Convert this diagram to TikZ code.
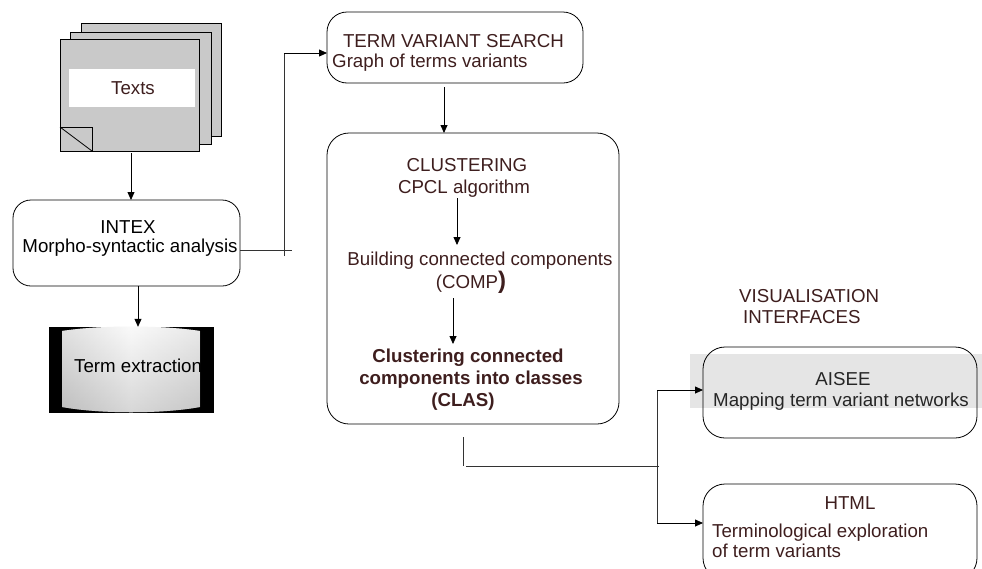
\documentclass[tikz,border=0pt]{standalone}
\usepackage{fontspec}
\setmainfont{Liberation Sans}
\usetikzlibrary{arrows.meta,calc}
\definecolor{txt}{RGB}{62,30,30}
\definecolor{sheet}{RGB}{201,201,201}
\definecolor{band}{RGB}{229,229,229}
\tikzset{
  box/.style={draw=black, line width=0.8pt, inner sep=0pt, outer sep=0pt},
  conn/.style={draw=black!80, line width=0.8pt},
  arr/.style={draw=black, line width=0.8pt, -{Triangle[length=8pt,width=7pt]}},
  lbl/.style={anchor=base, inner sep=0pt, font=\fontsize{18.7}{22}\selectfont, text=txt},
  lblw/.style={lbl, anchor=base west},
  blbl/.style={lbl, font=\fontsize{18.7}{22}\selectfont\bfseries},
  sheetbox/.style={box, fill=sheet}
}
\begin{document}
\begin{tikzpicture}[x=1pt,y=-1pt]
\useasboundingbox (0,0) rectangle (982,568);

% --- Texts stack ---
\node[sheetbox, minimum width=140pt, minimum height=113pt] (back) at (151,79.5) {};
\node[sheetbox, minimum width=141pt, minimum height=112pt] (mid) at (140.5,88) {};
\node[sheetbox, minimum width=139pt, minimum height=112pt] (front) at (129.5,95) {};
\fill[white] (69,69) rectangle (195,107);
\node[lbl] (texts) at (133,94) {Texts};
\draw[line width=0.8pt] (60,127) -- (92,127) -- (92,151);
\draw[line width=0.8pt] (60,127) -- (92,151);

% --- INTEX ---
\node[box, rounded corners=18pt, minimum width=227pt, minimum height=86pt] (intex) at (126.5,243) {};
\node[lbl, text=black] (intext) at (128,233) {INTEX};
\node[lbl, text=black] (morpho) at (130,252) {Morpho-syntactic analysis};

% --- Term extraction ---
\node[fill=black, inner sep=0pt, minimum width=165pt, minimum height=86pt] (te) at (131.5,370) {};
\begin{scope}
  \path[clip] (62,331) .. controls (100,325) and (162,325) .. (200,331) -- (200,407) .. controls (162,414) and (100,414) .. (62,407) -- cycle;
  \shade[top color=gray!6, bottom color=gray!58] (60,324) rectangle (202,415);
  \shade[left color=gray!45, right color=gray!30, middle color=white, opacity=0.45] (60,324) rectangle (202,415);
  \node[lblw, text=black] (tetext) at (74,372) {Term extraction};
\end{scope}

% --- Term variant search ---
\node[box, rounded corners=20pt, minimum width=256pt, minimum height=71pt] (tvs) at (455,47.5) {};
\node[lbl] (tvs1) at (453.5,47) {TERM VARIANT SEARCH};
\node[lblw] (tvs2) at (332,67) {Graph of terms variants};

% --- Clustering ---
\node[box, rounded corners=22pt, minimum width=292pt, minimum height=291pt] (clus) at (473,278.5) {};
\node[lbl] (cl1) at (467,171) {CLUSTERING};
\node[lbl] (cl2) at (464,193) {CPCL algorithm};
\node[lbl] (cl3) at (480,265) {Building connected components};
\node[lbl] (cl4) at (471,288) {(COMP{\fontsize{24}{24}\selectfont\bfseries )}};
\node[blbl] (cl5) at (468,362) {Clustering connected};
\node[blbl] (cl6) at (471,384) {components into classes};
\node[blbl] (cl7) at (463,406) {(CLAS)};
\coordinate (ca1) at (457,198);
\coordinate (ca2) at (457,245);
\coordinate (cb1) at (453,298);
\coordinate (cb2) at (453,344);
\draw[arr] (ca1) -- (ca2);
\draw[arr] (cb1) -- (cb2);

% --- Visualisation ---
\node[lblw] (vis1) at (739,302) {VISUALISATION};
\node[lblw] (vis2) at (743,323) {INTERFACES};
\fill[band] (690,354) rectangle (982,408);
\node[box, rounded corners=22pt, minimum width=274pt, minimum height=91pt] (aisee) at (840,392.5) {};
\node[lbl, text=black!85] (ai1) at (843,385) {AISEE};
\node[lbl, text=black!85] (ai2) at (841,406) {Mapping term variant networks};
\node[box, rounded corners=22pt, minimum width=274pt, minimum height=96pt] (html) at (840,532) {};
\node[lbl] (ht1) at (850,509) {HTML};
\node[lblw] (ht2) at (712,537) {Terminological exploration};
\node[lblw] (ht3) at (712,557) {of term variants};

% --- Connectors ---
\coordinate (s1) at (131,153);
\coordinate (s2) at (138,0);
\draw[arr] (s1) -- (s1 |- intex.north);
\draw[arr] (s2 |- intex.south) -- (s2 |- te.north);
\coordinate (h1) at (292,250);
\draw[conn] (h1 -| intex.east) -- (h1);
\coordinate (i1) at (284,256);
\coordinate (i2) at (284,53);
\draw[conn] (i1) -- (i2);
\draw[arr] (i2) -- (i2 -| tvs.west);
\draw[arr] ($(tvs.south)+(-11,4)$) -- ($(clus.north)+(-29,0)$);
\coordinate (t1) at (463,437);
\coordinate (t2) at (463,466);
\coordinate (j) at (659,466);
\coordinate (va) at (657,390);
\coordinate (vh) at (657,523);
\draw[conn] (t1) -- (t2);
\draw[conn] ($(t2)+(3,0)$) -- (j);
\draw[conn] (va) -- (vh);
\draw[arr] (va) -- (va -| aisee.west);
\draw[arr] (vh) -- (vh -| html.west);
\end{tikzpicture}
\end{document}
